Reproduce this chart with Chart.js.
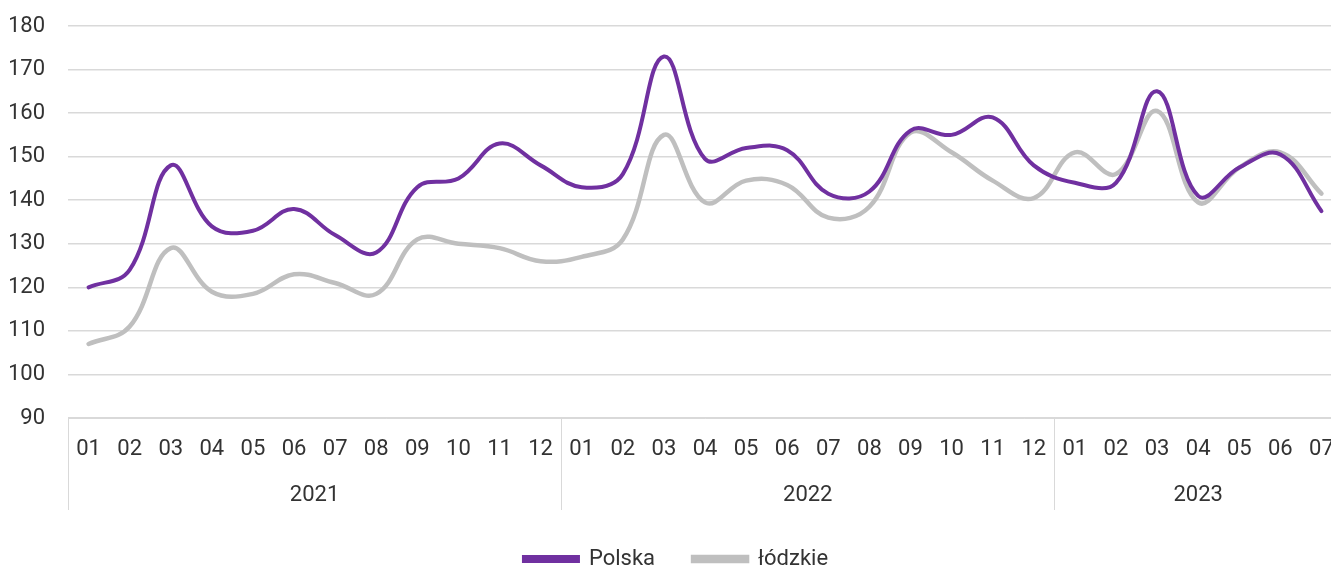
<!DOCTYPE html>
<html lang="pl">
<head>
<meta charset="utf-8">
<title>Polska i łódzkie</title>
<script src="https://cdn.jsdelivr.net/npm/chart.js@4.4.1/dist/chart.umd.min.js"></script>
<style>
  html, body { margin: 0; padding: 0; background: #fff; overflow: hidden; }
  #box { width: 1370px; height: 568px; position: relative; }
</style>
</head>
<body>
<div id="box"><canvas id="wykres"></canvas></div>
<script>
// miesiące i lata (oś X w dwóch poziomach)
const miesiace = [
  "01","02","03","04","05","06","07","08","09","10","11","12",
  "01","02","03","04","05","06","07","08","09","10","11","12",
  "01","02","03","04","05","06","07"
];
const lata = ["2021", "2022", "2023"];
const miesiaceWRoku = [12, 12, 7];

// wartości
const polska = [
  120, 124, 148, 134, 133, 138, 132, 128, 143, 145, 153, 148,
  143, 146, 173, 149.5, 152, 151.5, 141.5, 142, 156, 155, 159, 148,
  144, 144, 165, 141, 147.5, 150.5, 137.5
];
const lodzkie = [
  107, 111, 129, 119, 118.5, 123, 121, 118.5, 131, 130, 129, 126,
  127, 131, 155, 139.5, 144.5, 143.5, 136, 138.5, 155.5, 151, 144.5, 140.5,
  151, 146, 160.5, 139.5, 147.5, 151, 141.5
];

const yMin = 90;
const yMax = 180;
const yKrok = 10;

const CZCIONKA = "Roboto, 'Noto Sans', sans-serif";
const ROZMIAR = 22;
const KOLOR_TEKSTU = "#333333";
const KOLOR_SIATKI = "#d9d9d9";

// podpisy lat i pionowe separatory pod osią X
const lataPlugin = {
  id: "lata",
  afterDraw(chart) {
    const x = chart.scales.x;
    const ctx = chart.ctx;
    const pol = (x.getPixelForValue(1) - x.getPixelForValue(0)) / 2;
    const gora = x.top;
    const dol = x.bottom;

    ctx.save();
    ctx.strokeStyle = KOLOR_SIATKI;
    ctx.lineWidth = 1;
    ctx.fillStyle = KOLOR_TEKSTU;
    ctx.font = ROZMIAR + "px " + CZCIONKA;
    ctx.textAlign = "center";
    ctx.textBaseline = "middle";

    let start = 0;
    lata.forEach((rok, i) => {
      const koniec = start + miesiaceWRoku[i] - 1;
      const lewa = Math.round(x.getPixelForValue(start) - pol) + 0.5;
      ctx.beginPath();
      ctx.moveTo(lewa, gora);
      ctx.lineTo(lewa, dol);
      ctx.stroke();

      const srodek = (x.getPixelForValue(start) + x.getPixelForValue(koniec)) / 2;
      ctx.fillText(rok, srodek, gora + 77);
      start = koniec + 1;
    });
    ctx.restore();
  }
};

new Chart(document.getElementById("wykres"), {
  type: "line",
  data: {
    labels: miesiace,
    datasets: [
      {
        label: "Polska",
        data: polska,
        borderColor: "#7030a0",
        backgroundColor: "#7030a0",
        borderWidth: 4,
        borderCapStyle: "round",
        pointRadius: 0,
        tension: 0.4
      },
      {
        label: "łódzkie",
        data: lodzkie,
        borderColor: "#bfbfbf",
        backgroundColor: "#bfbfbf",
        borderWidth: 4.5,
        borderCapStyle: "round",
        pointRadius: 0,
        tension: 0.4
      }
    ]
  },
  options: {
    responsive: true,
    maintainAspectRatio: false,
    animation: false,
    layout: { padding: { top: 26, left: 10, right: 28, bottom: 0 } },
    plugins: {
      tooltip: { enabled: false },
      legend: {
        position: "bottom",
        maxHeight: 58,
        labels: {
          color: KOLOR_TEKSTU,
          font: { family: CZCIONKA, size: ROZMIAR },
          boxWidth: 54,
          boxHeight: 4,
          padding: 38
        }
      }
    },
    scales: {
      x: {
        type: "category",
        offset: true,
        grid: { display: false, drawTicks: false },
        border: { display: true, color: KOLOR_SIATKI, width: 1 },
        ticks: {
          color: KOLOR_TEKSTU,
          font: { family: CZCIONKA, size: ROZMIAR },
          padding: 18,
          autoSkip: false,
          maxRotation: 0
        },
        afterFit(scale) {
          scale.height = 92;
          scale.paddingLeft = 0;
          scale.paddingRight = 0;
        }
      },
      y: {
        min: yMin,
        max: yMax,
        grid: { color: KOLOR_SIATKI, lineWidth: 1.5, drawTicks: false },
        border: { display: false },
        ticks: {
          stepSize: yKrok,
          color: KOLOR_TEKSTU,
          font: { family: CZCIONKA, size: ROZMIAR },
          padding: 23
        },
        afterFit(scale) {
          scale.width = 58;
          scale.paddingTop = 0;
          scale.paddingBottom = 0;
        }
      }
    }
  },
  plugins: [lataPlugin]
});
</script>
</body>
</html>
